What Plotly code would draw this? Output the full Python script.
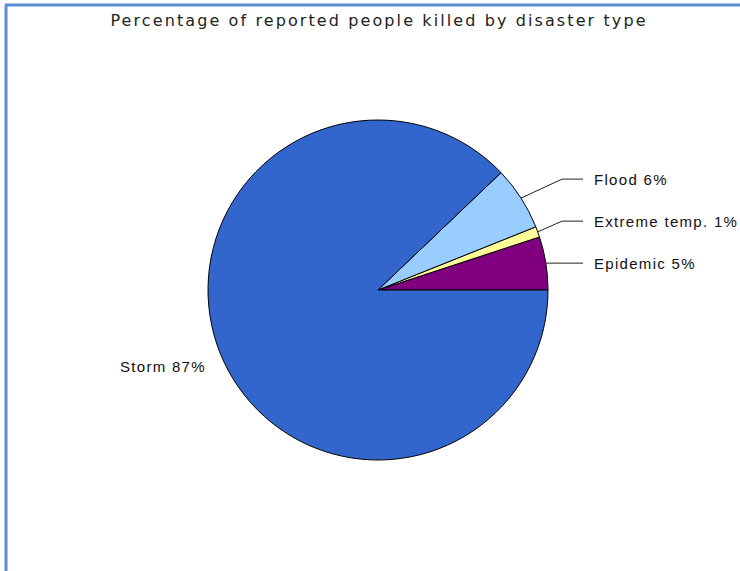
import math
import plotly.graph_objects as go

# Share of reported people killed, by disaster type (percent)
categories = ["Epidemic", "Extreme temp.", "Flood", "Storm"]
percentages = [5, 1, 6, 87]
slice_colors = ["#800080", "#ffff99", "#99ccff", "#3366cc"]
title_text = "Percentage of reported people killed by disaster type"

W, H = 740, 571
CX, CY, R = 378, 290, 170          # pie centre and radius in pixels
ELBOW_X = 562                        # where leader lines turn horizontal
TAIL_X = 583                         # end of the horizontal leader segment
TEXT_X = 592                         # left edge of right-hand labels
GAP = 42                             # minimum vertical gap between right-hand labels
LABEL_FONT = dict(family="Liberation Sans, Arial, sans-serif", size=15, color="#111111")
LABEL_SPACING = "1.3px"


def px(x):
    return x / W


def py(y):
    return 1 - y / H


def spaced(text, spacing):
    return f'<span style="letter-spacing:{spacing}">{text}</span>'


total = sum(percentages)
first_span = percentages[0] / total * 360

# Plotly anchors a counter-clockwise pie at the far edge of its first slice,
# so shift the rotation to make the first slice begin at 3 o'clock.
fig = go.Figure(
    go.Pie(
        labels=categories,
        values=percentages,
        sort=False,
        direction="counterclockwise",
        rotation=90 - first_span,
        marker=dict(colors=slice_colors, line=dict(color="#000000", width=1)),
        textinfo="none",
        hoverinfo="label+value",
        showlegend=False,
        domain=dict(x=[px(CX - R), px(CX + R)], y=[py(CY + R), py(CY - R)]),
    )
)

# Mid-angle of each slice (degrees, counter-clockwise from 3 o'clock)
mids = []
start = 0.0
for v in percentages:
    end = start + v / total * 360
    mids.append((start + end) / 2)
    start = end

shapes = []
annotations = []
largest = percentages.index(max(percentages))
prev_y = None
for i, (name, v, m) in enumerate(zip(categories, percentages, mids)):
    ex = CX + R * math.cos(math.radians(m))
    ey = CY - R * math.sin(math.radians(m))
    label = f"{name} {v}%"
    if i == largest:
        annotations.append(dict(
            x=px(ex - 12), y=py(ey + 13), xref="paper", yref="paper",
            xanchor="right", yanchor="middle", showarrow=False,
            text=spaced(label, LABEL_SPACING), font=LABEL_FONT,
        ))
        continue
    ly = ey if prev_y is None else min(ey, prev_y - GAP)
    prev_y = ly
    line_style = dict(color="#222222", width=1)
    shapes.append(dict(type="line", xref="paper", yref="paper",
                       x0=px(ex), y0=py(ey), x1=px(ELBOW_X), y1=py(ly), line=line_style))
    shapes.append(dict(type="line", xref="paper", yref="paper",
                       x0=px(ELBOW_X), y0=py(ly), x1=px(TAIL_X), y1=py(ly), line=line_style))
    annotations.append(dict(
        x=px(TEXT_X), y=py(ly), xref="paper", yref="paper",
        xanchor="left", yanchor="middle", showarrow=False,
        text=spaced(label, LABEL_SPACING), font=LABEL_FONT,
    ))

# Page frame along the top and left edges
frame = dict(color="#5b8fd5", width=3)
shapes.append(dict(type="line", xref="paper", yref="paper",
                   x0=px(5), y0=py(5), x1=1, y1=py(5), line=frame))
shapes.append(dict(type="line", xref="paper", yref="paper",
                   x0=px(6), y0=py(5), x1=px(6), y1=0, line=frame))

fig.update_layout(
    width=W,
    height=H,
    margin=dict(l=0, r=0, t=0, b=0),
    paper_bgcolor="#ffffff",
    plot_bgcolor="#ffffff",
    title=dict(
        text=spaced(title_text, "2.1px"),
        x=px(379), xanchor="center", xref="container",
        y=py(20), yanchor="middle", yref="container",
        font=dict(family="DejaVu Sans, Verdana, sans-serif", size=16, color="#222222"),
    ),
    shapes=shapes,
    annotations=annotations,
)

fig.write_html("out.html")
